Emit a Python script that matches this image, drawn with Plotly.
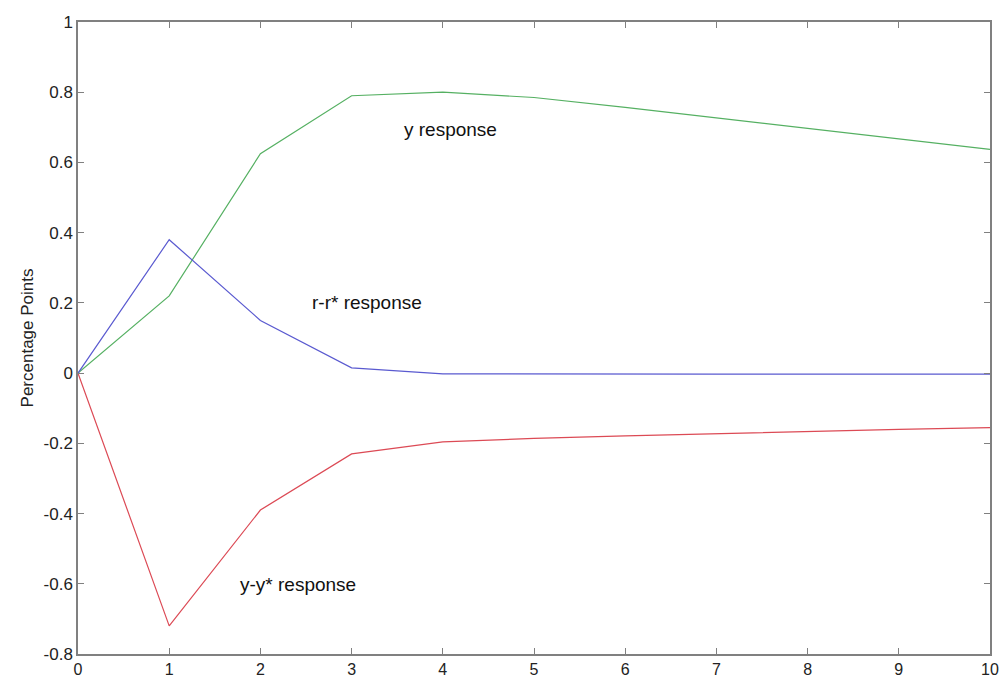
import plotly.graph_objects as go

periods = [0, 1, 2, 3, 4, 5, 6, 7, 8, 9, 10]
y_resp = [0.0, 0.22, 0.625, 0.79, 0.80, 0.785, 0.757, 0.727, 0.697, 0.667, 0.637]
r_resp = [0.0, 0.38, 0.15, 0.015, -0.002, -0.003, -0.003, -0.003, -0.003, -0.003, -0.003]
yy_resp = [0.0, -0.72, -0.39, -0.23, -0.196, -0.186, -0.179, -0.172, -0.166, -0.160, -0.155]

labels = ["y response", "r-r* response", "y-y* response"]
label_x = [4.08, 3.17, 2.41]
label_y = [0.695, 0.2, -0.603]

y_ticks = [-0.8, -0.6, -0.4, -0.2, 0, 0.2, 0.4, 0.6, 0.8, 1]
y_tick_text = ["-0.8", "-0.6", "-0.4", "-0.2", "0", "0.2", "0.4", "0.6", "0.8", "1"]

fig = go.Figure()
fig.add_trace(go.Scatter(x=periods, y=y_resp, mode="lines", line=dict(color="#55b062", width=1.2), showlegend=False))
fig.add_trace(go.Scatter(x=periods, y=r_resp, mode="lines", line=dict(color="#5a5ad0", width=1.2), showlegend=False))
fig.add_trace(go.Scatter(x=periods, y=yy_resp, mode="lines", line=dict(color="#dc4a55", width=1.2), showlegend=False))

for t, xx, yy in zip(labels, label_x, label_y):
    fig.add_annotation(x=xx, y=yy, text=t, showarrow=False,
                       font=dict(size=19, color="#111111", family="Liberation Sans"))

axis_common = dict(showgrid=False, zeroline=False, showline=True, linecolor="#808080", linewidth=1.5,
                   mirror="ticks", ticks="inside", ticklen=6, tickcolor="#808080", tickwidth=1,
                   automargin=False)

fig.update_xaxes(range=[0, 10], tickvals=periods, ticktext=[str(p) for p in periods],
                 tickfont=dict(size=16, color="#222222", family="Liberation Sans"), **axis_common)
fig.update_yaxes(range=[-0.8, 1], tickvals=y_ticks, ticktext=y_tick_text,
                 tickfont=dict(size=17, color="#222222", family="Liberation Sans"),
                 title=dict(text="Percentage Points",
                            font=dict(size=17, color="#222222", family="Liberation Sans"), standoff=6),
                 **axis_common)

fig.update_layout(width=1005, height=681, margin=dict(l=78, r=15, t=22, b=27),
                  plot_bgcolor="white", paper_bgcolor="white")

fig.write_html("out.html")
